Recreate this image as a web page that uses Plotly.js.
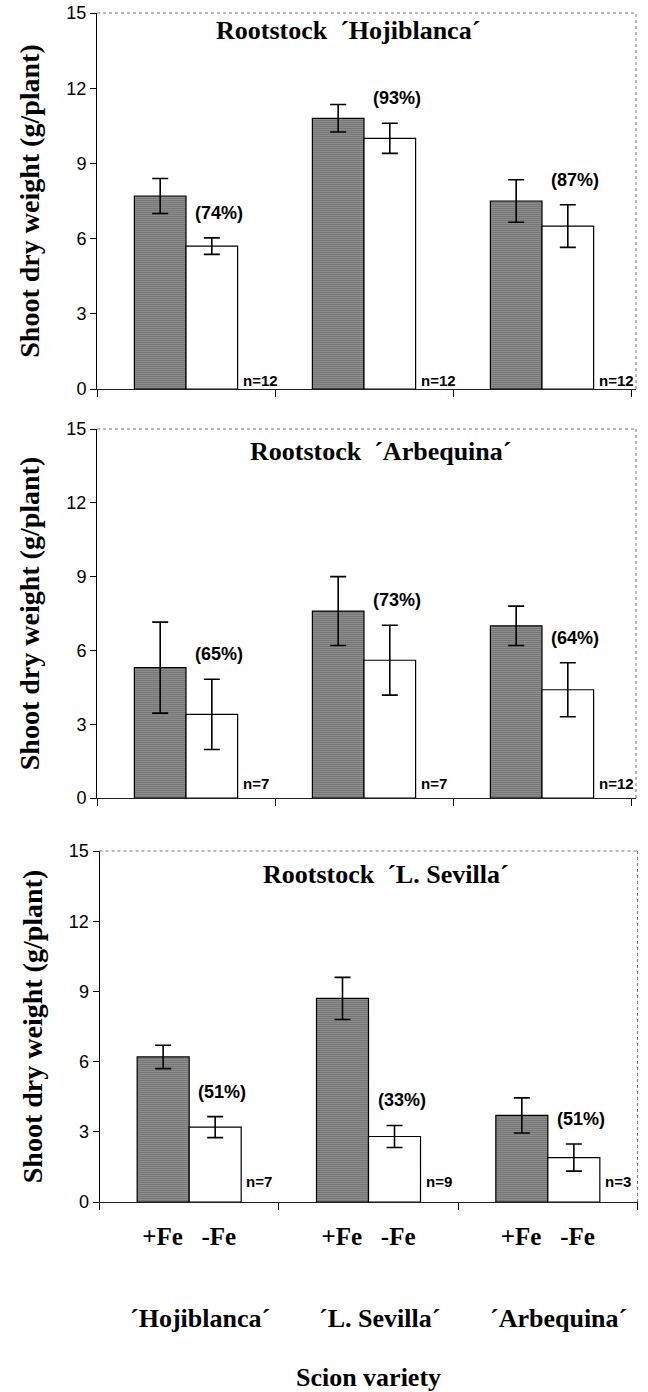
<!DOCTYPE html>
<html>
<head>
<meta charset="utf-8">
<script src="https://cdn.plot.ly/plotly-3.0.1.min.js"></script>
<style>html,body{margin:0;padding:0;background:#fff;}#chart{width:648px;height:1392px;}</style>
</head>
<body>
<div id="chart"></div>
<script>
// ---- data ----
const scions = ["´Hojiblanca´", "´L. Sevilla´", "´Arbequina´"];
const treatmentLabels = ["+Fe\u00a0\u00a0\u00a0-Fe", "+Fe\u00a0\u00a0\u00a0-Fe", "+Fe\u00a0\u00a0\u00a0-Fe"];
const rootstockTitles = ["Rootstock\u00a0 ´Hojiblanca´", "Rootstock\u00a0 ´Arbequina´", "Rootstock\u00a0 ´L. Sevilla´"];

const hojiPlusFe = [7.7, 10.8, 7.5];
const hojiPlusFeErr = [0.7, 0.55, 0.85];
const hojiMinusFe = [5.7, 10.0, 6.5];
const hojiMinusFeErr = [0.33, 0.6, 0.85];
const hojiPct = ["(74%)", "(93%)", "(87%)"];
const hojiN = ["n=12", "n=12", "n=12"];

const arbPlusFe = [5.3, 7.6, 7.0];
const arbPlusFeErr = [1.85, 1.4, 0.8];
const arbMinusFe = [3.4, 5.6, 4.4];
const arbMinusFeErr = [1.43, 1.42, 1.1];
const arbPct = ["(65%)", "(73%)", "(64%)"];
const arbN = ["n=7", "n=7", "n=12"];

const sevPlusFe = [6.2, 8.7, 3.7];
const sevPlusFeErr = [0.5, 0.9, 0.75];
const sevMinusFe = [3.2, 2.8, 1.9];
const sevMinusFeErr = [0.45, 0.47, 0.58];
const sevPct = ["(51%)", "(33%)", "(51%)"];
const sevN = ["n=7", "n=9", "n=3"];

const yTicks = [0, 3, 6, 9, 12, 15];

// ---- layout helpers ----
const W = 648, H = 1392;
const panels = [
  {plus: hojiPlusFe, plusErr: hojiPlusFeErr, minus: hojiMinusFe, minusErr: hojiMinusFeErr, pct: hojiPct, n: hojiN,
   title: rootstockTitles[0], xpx: [97, 636], ypx: [13, 389], titleX: 348, titleY: 31, nShift: 9},
  {plus: arbPlusFe, plusErr: arbPlusFeErr, minus: arbMinusFe, minusErr: arbMinusFeErr, pct: arbPct, n: arbN,
   title: rootstockTitles[1], xpx: [97, 636], ypx: [429, 798], titleX: 381, titleY: 452, nShift: 15},
  {plus: sevPlusFe, plusErr: sevPlusFeErr, minus: sevMinusFe, minusErr: sevMinusFeErr, pct: sevPct, n: sevN,
   title: rootstockTitles[2], xpx: [99.5, 637.5], ypx: [851, 1202], titleX: 386, titleY: 874, nShift: 21}
];

const serifBold = "Liberation Serif, Times New Roman, serif";
const sans = "Liberation Sans, Arial, sans-serif";
const traces = [];
const annotations = [];
const shapes = [];
const layout = {
  width: W, height: H,
  margin: {l: 0, r: 0, t: 0, b: 0},
  paper_bgcolor: "#fff", plot_bgcolor: "#fff",
  barmode: "group", bargap: 0.42, bargroupgap: 0,
  showlegend: false,
  font: {family: sans, color: "#000"}
};

panels.forEach((p, i) => {
  const k = i === 0 ? "" : String(i + 1);
  const xa = "x" + k, ya = "y" + k;
  const errStyle = {type: "data", visible: true, color: "#000", thickness: 1.6, width: 8};
  traces.push({
    type: "bar", x: scions, y: p.plus, name: "+Fe", xaxis: xa, yaxis: ya,
    marker: {color: "#fff", line: {color: "#000", width: 1.2},
             pattern: {shape: ".", fgcolor: "#000", bgcolor: "#fff", size: 2, solidity: 0.55}},
    error_y: Object.assign({array: p.plusErr}, errStyle)
  });
  traces.push({
    type: "bar", x: scions, y: p.minus, name: "-Fe", xaxis: xa, yaxis: ya,
    marker: {color: "#fff", line: {color: "#000", width: 1.2}},
    error_y: Object.assign({array: p.minusErr}, errStyle)
  });

  const xDomain = [p.xpx[0] / W, p.xpx[1] / W];
  const yDomain = [1 - p.ypx[1] / H, 1 - p.ypx[0] / H];
  layout["xaxis" + k] = {
    domain: xDomain, anchor: ya, type: "category",
    categoryorder: "array", categoryarray: scions,
    showline: true, linecolor: "#222", linewidth: 1,
    ticks: "outside", tickson: "boundaries", ticklen: 7, tickcolor: "#000", tickwidth: 1,
    showgrid: false, zeroline: false,
    showticklabels: i === 2,
    tickvals: scions, ticktext: treatmentLabels,
    ticklabelstandoff: 12,
    tickfont: {family: serifBold, size: 25, color: "#000", weight: "bold"},
    fixedrange: true
  };
  if (i === 2) {
    layout["xaxis" + k].title = {text: "Scion variety", font: {family: serifBold, size: 26, color: "#000", weight: "bold"}, standoff: 118};
  }
  layout["yaxis" + k] = {
    domain: yDomain, anchor: xa, range: [0, 15],
    tickvals: yTicks, ticktext: yTicks.map(String),
    showline: true, linecolor: "#000", linewidth: 1,
    ticks: "outside", ticklen: 6, tickcolor: "#000",
    showgrid: false, zeroline: false,
    tickfont: {family: sans, size: 18, color: "#000"},
    title: {text: "Shoot dry weight (g/plant)", font: {family: serifBold, size: 28, color: "#000", weight: "bold"}, standoff: 18},
    fixedrange: true
  };

  // dotted top and right frame
  shapes.push({type: "line", xref: xa + " domain", yref: ya + " domain", x0: 0, x1: 1, y0: 1, y1: 1,
               line: {color: "#777", width: 1, dash: "dot"}});
  shapes.push({type: "line", xref: xa + " domain", yref: ya + " domain", x0: 1, x1: 1, y0: 0, y1: 1,
               line: {color: "#777", width: 1, dash: "dot"}});

  // panel title
  annotations.push({xref: "paper", yref: "paper", x: p.titleX / W, y: 1 - p.titleY / H,
    xanchor: "center", yanchor: "middle", showarrow: false, text: p.title,
    font: {family: serifBold, size: 26, color: "#000", weight: "bold"}});

  scions.forEach((s, j) => {
    annotations.push({xref: xa, yref: ya, x: s, y: p.minus[j] + p.minusErr[j],
      xshift: 33, yshift: 25, xanchor: "center", yanchor: "middle", showarrow: false,
      text: p.pct[j], font: {family: sans, size: 18, color: "#000", weight: "bold"}});
    annotations.push({xref: xa, yref: ya, x: s, y: 0,
      xshift: 55, yshift: p.nShift, xanchor: "left", yanchor: "middle", showarrow: false,
      text: p.n[j], font: {family: sans, size: 15, color: "#000", weight: "bold"}});
  });
});

// scion variety names under bottom panel
scions.forEach((s) => {
  annotations.push({xref: "x3", yref: "paper", x: s, y: 1 - 1318 / H, xshift: 11,
    xanchor: "center", yanchor: "middle", showarrow: false, text: s,
    font: {family: serifBold, size: 26, color: "#000", weight: "bold"}});
});

layout.annotations = annotations;
layout.shapes = shapes;

Plotly.newPlot("chart", traces, layout, {staticPlot: true, displayModeBar: false});
</script>
</body>
</html>
